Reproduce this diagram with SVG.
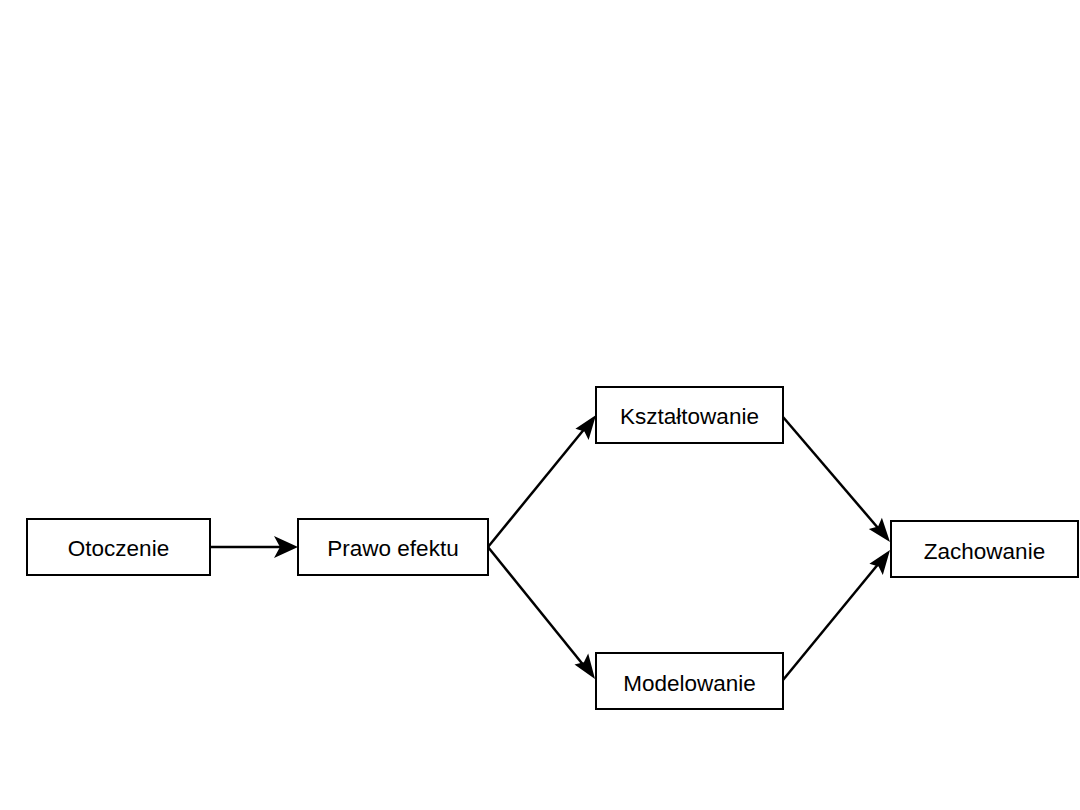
<svg xmlns="http://www.w3.org/2000/svg" width="1080" height="810" viewBox="0 0 1080 810">
<style>
.box{fill:#fff;stroke:#000;stroke-width:2}
.lbl{font-family:"Liberation Sans",Arial,sans-serif;font-size:22.5px;fill:#000;text-anchor:middle;dominant-baseline:central}
.conn{stroke:#000;stroke-width:2.5;fill:none}
.head{fill:#000}
</style>
<rect width="1080" height="810" fill="#fff"/>
<g id="connectors">
<line class="conn" x1="210" y1="547" x2="290" y2="547"/>
<path class="head" d="M274,536 L298,547 L274,558 L280,547 z"/>
<line class="conn" x1="488" y1="547" x2="590" y2="422"/>
<path class="head" d="M596,415 L588.6,440 L584.4,431.5 L575.4,428.8 z"/>
<line class="conn" x1="488" y1="547" x2="589" y2="672"/>
<path class="head" d="M595,679 L574.5,664.6 L583.9,662.3 L588.2,653.6 z"/>
<line class="conn" x1="783" y1="417" x2="884" y2="535"/>
<path class="head" d="M890,542 L868.8,528.9 L878.1,526.6 L881.9,517.8 z"/>
<line class="conn" x1="783" y1="680" x2="884" y2="557"/>
<path class="head" d="M890,550 L882.8,575 L878.6,566.4 L869.4,563.8 z"/>
</g>
<g id="otoczenie"><rect class="box" x="27" y="519" width="183" height="56"/><text class="lbl" x="118.5" y="548">Otoczenie</text></g>
<g id="prawo"><rect class="box" x="298" y="519" width="190" height="56"/><text class="lbl" x="393" y="548">Prawo efektu</text></g>
<g id="ksztaltowanie"><rect class="box" x="596" y="387" width="187" height="56"/><text class="lbl" x="689.5" y="416">Kształtowanie</text></g>
<g id="modelowanie"><rect class="box" x="596" y="653" width="187" height="56"/><text class="lbl" x="689.5" y="683">Modelowanie</text></g>
<g id="zachowanie"><rect class="box" x="891" y="521" width="187" height="56"/><text class="lbl" x="984.5" y="551">Zachowanie</text></g>
</svg>
